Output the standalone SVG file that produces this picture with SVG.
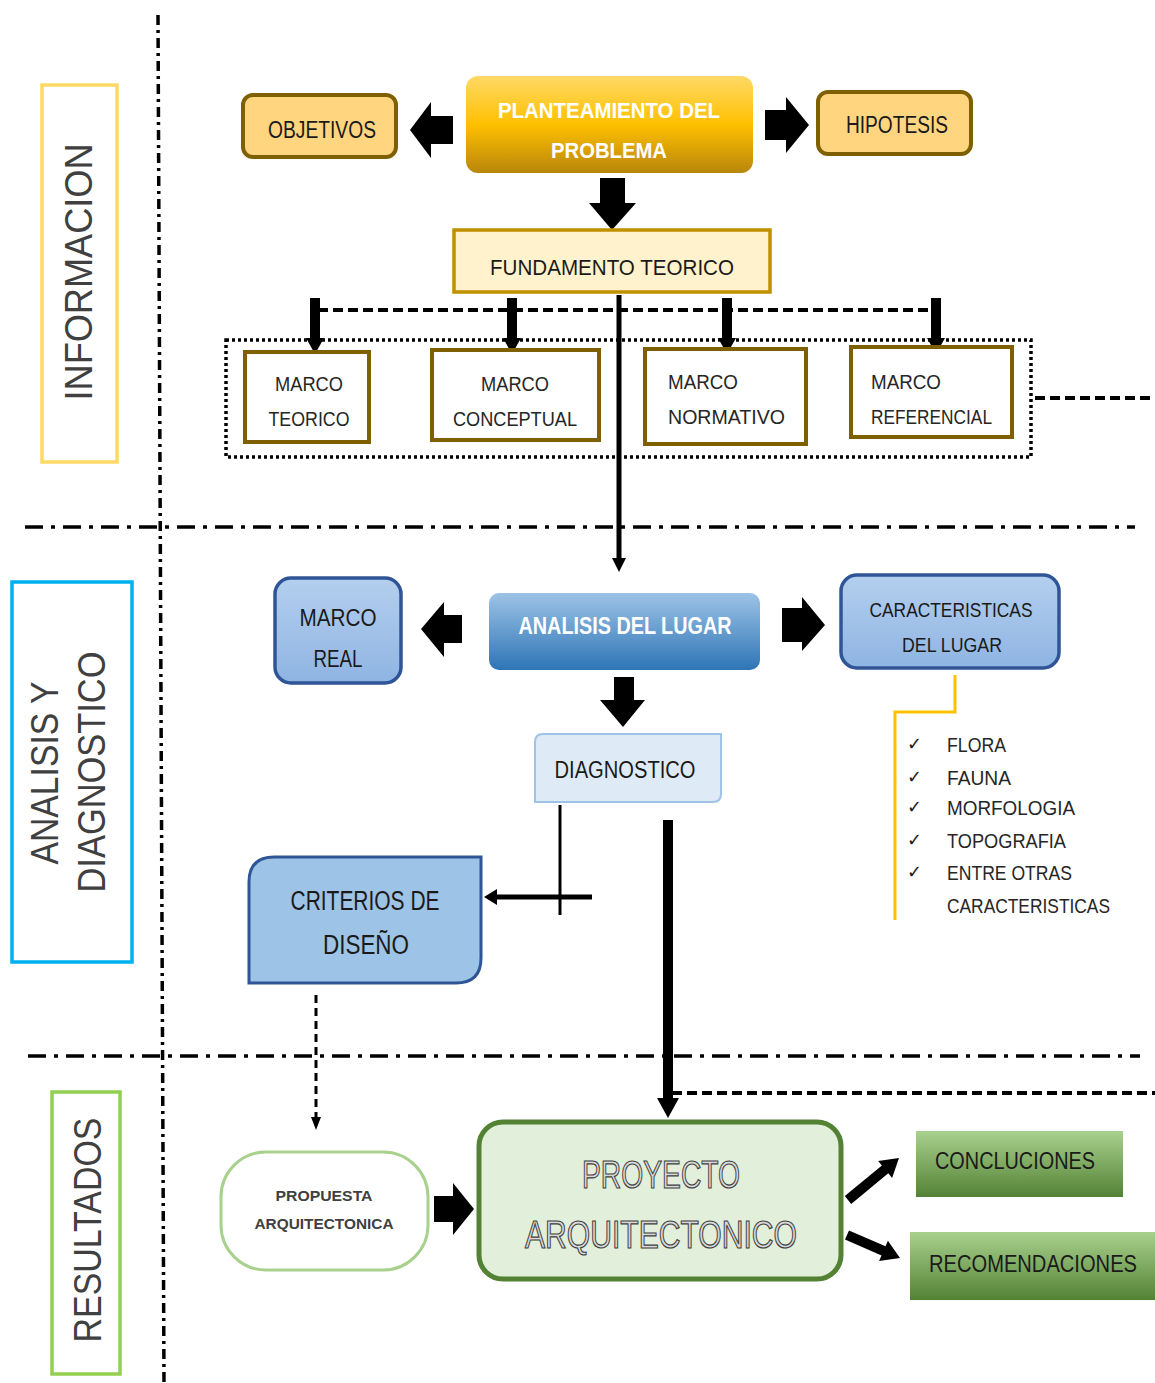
<svg xmlns="http://www.w3.org/2000/svg" width="1155" height="1383" viewBox="0 0 1155 1383">
<defs>
<linearGradient id="gold" x1="0" y1="0" x2="0" y2="1"><stop offset="0" stop-color="#FFD966"/><stop offset="0.5" stop-color="#FFC000"/><stop offset="1" stop-color="#B8860B"/></linearGradient>
<linearGradient id="blueG" x1="0" y1="0" x2="0" y2="1"><stop offset="0" stop-color="#9DC3E6"/><stop offset="1" stop-color="#2E75B6"/></linearGradient>
<linearGradient id="lblue" x1="0" y1="0" x2="0" y2="1"><stop offset="0" stop-color="#B4CFEE"/><stop offset="1" stop-color="#8FB4E3"/></linearGradient>
<linearGradient id="greenG" x1="0" y1="0" x2="0" y2="1"><stop offset="0" stop-color="#A9D18E"/><stop offset="1" stop-color="#548235"/></linearGradient>
<style>
text{font-family:"Liberation Sans",Arial,sans-serif;fill:#1a1a1a}
.c{text-anchor:middle}
.side{font-size:38px;fill:#404040}
.orange{fill:#FFD580;stroke:#7F6000;stroke-width:4}
.marco{fill:#fff;stroke:#7F6000;stroke-width:4}
.mt{font-size:19.5px;fill:#262626}
.bluebox{fill:url(#lblue);stroke:#2F5597;stroke-width:3.5}
.white{fill:#fff;font-weight:bold}
.dd{fill:none;stroke:#000;stroke-width:3.5;stroke-dasharray:18 8 4 8}
.dash{fill:none;stroke:#000;stroke-width:4;stroke-dasharray:10 5}
.blk{fill:#000}
.chk{font-family:"DejaVu Sans",sans-serif;font-size:18px}
.lst{font-size:19.5px;fill:#262626}
</style>
</defs>

<!-- section dividers -->
<g id="dividers">
<line class="dd" x1="158" y1="15" x2="164" y2="1383" style="stroke-dasharray:10 5 3 5"/>
<line class="dd" x1="25" y1="527" x2="1135" y2="527"/>
<line class="dd" x1="28" y1="1056" x2="1140" y2="1056"/>
</g>

<!-- side labels -->
<g id="lbl-informacion">
<rect x="42" y="85" width="75" height="377" fill="none" stroke="#FFD966" stroke-width="3.5"/>
<text class="side c" transform="translate(92,272) rotate(-90)" textLength="257" lengthAdjust="spacingAndGlyphs">INFORMACION</text>
</g>
<g id="lbl-analisis">
<rect x="12" y="582" width="120" height="380" fill="none" stroke="#00B0F0" stroke-width="3.5"/>
<text class="side c" transform="translate(58,773) rotate(-90)" textLength="183" lengthAdjust="spacingAndGlyphs">ANALISIS Y</text>
<text class="side c" transform="translate(105,772) rotate(-90)" textLength="241" lengthAdjust="spacingAndGlyphs">DIAGNOSTICO</text>
</g>
<g id="lbl-resultados">
<rect x="52" y="1092" width="68" height="282" fill="none" stroke="#92D050" stroke-width="3.5"/>
<text class="side c" transform="translate(101,1230) rotate(-90)" textLength="225" lengthAdjust="spacingAndGlyphs">RESULTADOS</text>
</g>

<!-- connectors -->
<g id="connectors">
<polygon class="blk" points="453,116 431,116 431,102 410,130 431,158 431,144 453,144"/>
<polygon class="blk" points="765,110 786,110 786,97 809,125 786,153 786,140 765,140"/>
<polygon class="blk" points="600,178 625,178 625,203 636,203 612,230 589,203 600,203"/>
<line class="dash" x1="318" y1="310" x2="933" y2="310"/>
<rect class="blk" x="310" y="298" width="10" height="42"/><polygon class="blk" points="306,338 324,338 315,354"/>
<rect class="blk" x="507" y="298" width="10" height="42"/><polygon class="blk" points="503,338 521,338 512,354"/>
<rect class="blk" x="722" y="298" width="10" height="42"/><polygon class="blk" points="718,338 736,338 727,354"/>
<rect class="blk" x="931" y="298" width="10" height="42"/><polygon class="blk" points="927,338 945,338 936,354"/>
<rect x="226" y="340" width="805" height="117" fill="none" stroke="#000" stroke-width="3.5" stroke-dasharray="3 3"/>
<line class="dash" x1="1035" y1="398" x2="1155" y2="398"/>
<line x1="619" y1="295" x2="619" y2="560" stroke="#000" stroke-width="5"/>
<polygon class="blk" points="612,558 626,558 619,572"/>
<polygon class="blk" points="462,615 444,615 444,602 421,629 444,657 444,643 462,643"/>
<polygon class="blk" points="782,608 802,608 802,597 825,625 802,651 802,642 782,642"/>
<polygon class="blk" points="614,677 634,677 634,700 645,700 623,727 600,700 614,700"/>
<polyline points="955,675 955,712 895,712 895,920" fill="none" stroke="#FFC000" stroke-width="3"/>
<line x1="560" y1="805" x2="560" y2="915" stroke="#000" stroke-width="3"/>
<line x1="592" y1="897" x2="494" y2="897" stroke="#000" stroke-width="5"/>
<polygon class="blk" points="497,889 497,905 484,897"/>
<line x1="668" y1="820" x2="668" y2="1100" stroke="#000" stroke-width="10"/>
<polygon class="blk" points="657,1098 679,1098 668,1118"/>
<line x1="316" y1="995" x2="316" y2="1118" stroke="#000" stroke-width="3" stroke-dasharray="8 5"/>
<polygon class="blk" points="311,1117 321,1117 316,1130"/>
<line class="dash" x1="672" y1="1093" x2="1155" y2="1093"/>
<polygon class="blk" points="434,1196 453,1196 453,1183 474,1209 453,1235 453,1222 434,1222"/>
<polygon class="blk" points="844.8,1196.1 881.9,1165.5 878.1,1160.9 899,1158 892.1,1177.9 888.3,1173.3 851.2,1203.9"/>
<polygon class="blk" points="849.0,1230.4 885.5,1246.2 887.9,1240.7 900,1258 879.1,1260.9 881.5,1255.4 845.0,1239.6"/>
</g>

<!-- top nodes -->
<g id="n-planteamiento">
<rect x="466" y="76" width="287" height="97" rx="12" fill="url(#gold)"/>
<text class="c white" x="609" y="118" font-size="22" textLength="222" lengthAdjust="spacingAndGlyphs">PLANTEAMIENTO DEL</text>
<text class="c white" x="609" y="158" font-size="22" textLength="116" lengthAdjust="spacingAndGlyphs">PROBLEMA</text>
</g>
<g id="n-objetivos">
<rect class="orange" x="243" y="95" width="153" height="62" rx="10"/>
<text class="c" x="322" y="138" font-size="23" textLength="108" lengthAdjust="spacingAndGlyphs">OBJETIVOS</text>
</g>
<g id="n-hipotesis">
<rect class="orange" x="818" y="92" width="153" height="62" rx="10"/>
<text class="c" x="897" y="133" font-size="23" textLength="102" lengthAdjust="spacingAndGlyphs">HIPOTESIS</text>
</g>
<g id="n-fundamento">
<rect x="454" y="230" width="316" height="62" fill="#FFF2CC" stroke="#BF9000" stroke-width="3.5"/>
<text class="c" x="612" y="275" font-size="22" textLength="244" lengthAdjust="spacingAndGlyphs">FUNDAMENTO TEORICO</text>
</g>
<g id="n-marco-teorico">
<rect class="marco" x="245" y="352" width="124" height="90"/>
<text class="c mt" x="309" y="391" textLength="68" lengthAdjust="spacingAndGlyphs">MARCO</text>
<text class="c mt" x="309" y="426" textLength="81" lengthAdjust="spacingAndGlyphs">TEORICO</text>
</g>
<g id="n-marco-conceptual">
<rect class="marco" x="432" y="350" width="167" height="90"/>
<text class="c mt" x="515" y="391" textLength="68" lengthAdjust="spacingAndGlyphs">MARCO</text>
<text class="c mt" x="515" y="426" textLength="124" lengthAdjust="spacingAndGlyphs">CONCEPTUAL</text>
</g>
<g id="n-marco-normativo">
<rect class="marco" x="645" y="349" width="161" height="95"/>
<text class="mt" x="668" y="389" textLength="70" lengthAdjust="spacingAndGlyphs">MARCO</text>
<text class="mt" x="668" y="424" textLength="117" lengthAdjust="spacingAndGlyphs">NORMATIVO</text>
</g>
<g id="n-marco-referencial">
<rect class="marco" x="851" y="347" width="161" height="90"/>
<text class="mt" x="871" y="389" textLength="70" lengthAdjust="spacingAndGlyphs">MARCO</text>
<text class="mt" x="871" y="424" textLength="121" lengthAdjust="spacingAndGlyphs">REFERENCIAL</text>
</g>

<!-- middle nodes -->
<g id="n-marco-real">
<rect class="bluebox" x="275" y="578" width="126" height="105" rx="16"/>
<text class="c" x="338" y="626" font-size="23" textLength="77" lengthAdjust="spacingAndGlyphs">MARCO</text>
<text class="c" x="338" y="667" font-size="23" textLength="49" lengthAdjust="spacingAndGlyphs">REAL</text>
</g>
<g id="n-analisis">
<rect x="489" y="593" width="271" height="77" rx="10" fill="url(#blueG)"/>
<text class="c white" x="625" y="634" font-size="23" textLength="213" lengthAdjust="spacingAndGlyphs">ANALISIS DEL LUGAR</text>
</g>
<g id="n-caracteristicas">
<rect class="bluebox" x="841" y="575" width="218" height="93" rx="16"/>
<text class="c" x="951" y="617" font-size="21" textLength="163" lengthAdjust="spacingAndGlyphs">CARACTERISTICAS</text>
<text class="c" x="952" y="652" font-size="21" textLength="100" lengthAdjust="spacingAndGlyphs">DEL LUGAR</text>
</g>
<g id="n-diagnostico">
<path d="M543,734 H721 V794 Q721,802 713,802 H535 V742 Q535,734 543,734 Z" fill="#DEEBF7" stroke="#9DC3E6" stroke-width="2"/>
<text class="c" x="625" y="778" font-size="23" textLength="141" lengthAdjust="spacingAndGlyphs">DIAGNOSTICO</text>
</g>
<g id="n-lista">
<text class="chk" x="907" y="750">✓</text><text class="lst" x="947" y="752" textLength="59" lengthAdjust="spacingAndGlyphs">FLORA</text>
<text class="chk" x="907" y="783">✓</text><text class="lst" x="947" y="785" textLength="64" lengthAdjust="spacingAndGlyphs">FAUNA</text>
<text class="chk" x="907" y="813">✓</text><text class="lst" x="947" y="815" textLength="128" lengthAdjust="spacingAndGlyphs">MORFOLOGIA</text>
<text class="chk" x="907" y="846">✓</text><text class="lst" x="947" y="848" textLength="119" lengthAdjust="spacingAndGlyphs">TOPOGRAFIA</text>
<text class="chk" x="907" y="878">✓</text><text class="lst" x="947" y="880" textLength="125" lengthAdjust="spacingAndGlyphs">ENTRE OTRAS</text>
<text class="lst" x="947" y="913" textLength="163" lengthAdjust="spacingAndGlyphs">CARACTERISTICAS</text>
</g>
<g id="n-criterios">
<path d="M274,857 H481 V958 Q481,983 456,983 H249 V882 Q249,857 274,857 Z" fill="#9DC3E6" stroke="#2F5597" stroke-width="3"/>
<text class="c" x="365" y="910" font-size="27" textLength="149" lengthAdjust="spacingAndGlyphs">CRITERIOS DE</text>
<text class="c" x="366" y="954" font-size="27" textLength="86" lengthAdjust="spacingAndGlyphs">DISEÑO</text>
</g>

<!-- bottom nodes -->
<g id="n-propuesta">
<rect x="221" y="1152" width="207" height="118" rx="45" fill="#fff" stroke="#A9D18E" stroke-width="3"/>
<text class="c" x="324" y="1201" font-size="15" font-weight="bold" style="fill:#404040" textLength="97" lengthAdjust="spacingAndGlyphs">PROPUESTA</text>
<text class="c" x="324" y="1229" font-size="15" font-weight="bold" style="fill:#404040" textLength="139" lengthAdjust="spacingAndGlyphs">ARQUITECTONICA</text>
</g>
<g id="n-proyecto">
<rect x="479" y="1122" width="362" height="157" rx="24" fill="#E2EFDA" stroke="#548235" stroke-width="5"/>
<text class="c" x="661" y="1188" font-size="38" style="fill:#D9D9D9;stroke:#404040;stroke-width:1.2" textLength="158" lengthAdjust="spacingAndGlyphs">PROYECTO</text>
<text class="c" x="661" y="1248" font-size="38" style="fill:#D9D9D9;stroke:#404040;stroke-width:1.2" textLength="272" lengthAdjust="spacingAndGlyphs">ARQUITECTONICO</text>
</g>
<g id="n-conclusiones">
<rect x="916" y="1131" width="207" height="66" fill="url(#greenG)"/>
<text class="c" x="1015" y="1169" font-size="23" textLength="160" lengthAdjust="spacingAndGlyphs">CONCLUCIONES</text>
</g>
<g id="n-recomendaciones">
<rect x="910" y="1232" width="245" height="68" fill="url(#greenG)"/>
<text class="c" x="1033" y="1272" font-size="23" textLength="208" lengthAdjust="spacingAndGlyphs">RECOMENDACIONES</text>
</g>
</svg>
